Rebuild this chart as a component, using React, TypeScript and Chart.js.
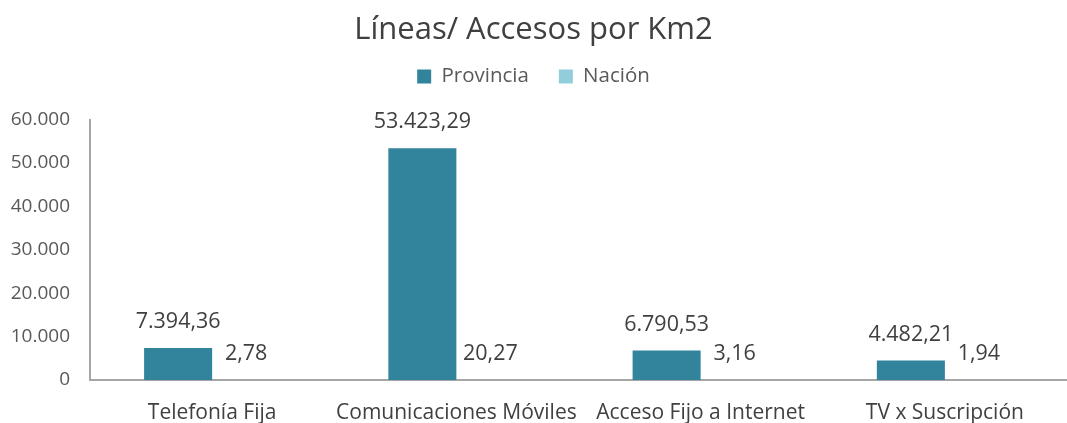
import React, { useEffect, useRef } from 'react';
import { Chart, registerables } from 'chart.js';

Chart.register(...registerables);

const chartTitle = 'Líneas/ Accesos por Km2';
const categories = ['Telefonía Fija', 'Comunicaciones Móviles', 'Acceso Fijo a Internet', 'TV x Suscripción'];
const seriesNames = ['Provincia', 'Nación'];
const provincia = [7394.36, 53423.29, 6790.53, 4482.21];
const nacion = [2.78, 20.27, 3.16, 1.94];
const yMin = 0;
const yMax = 60000;
const yStep = 10000;

const FONT = "'Open Sans', sans-serif";

function group(intPart: string): string {
  return intPart.replace(/\B(?=(\d{3})+(?!\d))/g, '.');
}
function fmtDec(v: number): string {
  const [i, d] = v.toFixed(2).split('.');
  return group(i) + ',' + d;
}
function fmtInt(v: number): string {
  return group(String(Math.round(v)));
}

const dataLabels = {
  id: 'dataLabels',
  afterDatasetsDraw(chart: any) {
    const ctx = chart.ctx;
    ctx.save();
    ctx.font = `21.5px ${FONT}`;
    ctx.fillStyle = '#404040';
    ctx.textAlign = 'center';
    ctx.textBaseline = 'middle';
    chart.data.datasets.forEach((ds: any, i: number) => {
      const meta = chart.getDatasetMeta(i);
      meta.data.forEach((el: any, j: number) => {
        ctx.fillText(fmtDec(ds.data[j]), el.x, el.y - 26);
      });
    });
    ctx.restore();
  },
};

export default function App() {
  const ref = useRef<HTMLCanvasElement | null>(null);

  useEffect(() => {
    document.body.style.margin = '0';
    const canvas = ref.current;
    if (!canvas) return;
    const chart = new Chart(canvas, {
      type: 'bar',
      data: {
        labels: categories,
        datasets: [
          {
            label: seriesNames[0],
            data: provincia,
            backgroundColor: '#31849B',
            borderWidth: 0,
            categoryPercentage: 0.557,
            barPercentage: 1,
          },
          {
            label: seriesNames[1],
            data: nacion,
            backgroundColor: '#92CDDC',
            borderWidth: 0,
            categoryPercentage: 0.557,
            barPercentage: 1,
          },
        ],
      },
      options: {
        animation: false,
        responsive: true,
        maintainAspectRatio: false,
        layout: { padding: { left: 0, right: 0, top: 0, bottom: 0 } },
        plugins: {
          title: {
            display: true,
            text: chartTitle,
            color: '#404040',
            font: { family: FONT, size: 31, weight: 'normal' },
            padding: { top: 12, bottom: -13 },
          },
          subtitle: {
            display: true,
            text: '',
            weight: 500,
            font: { family: FONT, size: 1, lineHeight: 1 },
            padding: { top: 22, bottom: 0 },
          },
          legend: {
            display: true,
            position: 'top',
            labels: {
              color: '#595959',
              font: { family: FONT, size: 20.5 },
              boxWidth: 14,
              boxHeight: 14,
              padding: 30,
            },
          },
          tooltip: { enabled: false },
        },
        scales: {
          x: {
            offset: true,
            grid: { display: false, drawTicks: false },
            border: { display: true, color: '#A6A6A6', width: 2 },
            ticks: {
              color: '#404040',
              font: { family: FONT, size: 21, lineHeight: 1.05 },
              padding: 22,
              maxRotation: 0,
              autoSkip: false,
            },
            afterFit(scale: any) {
              scale.height = 43;
            },
          },
          y: {
            min: yMin,
            max: yMax,
            grid: { display: false, drawTicks: false },
            border: { display: true, color: '#A6A6A6', width: 2 },
            ticks: {
              stepSize: yStep,
              color: '#595959',
              font: { family: FONT, size: 19 },
              padding: 20,
              callback: (v: any) => fmtInt(Number(v)),
            },
            afterFit(scale: any) {
              scale.width = 90;
            },
          },
        },
      },
      plugins: [dataLabels],
    });
    return () => chart.destroy();
  }, []);

  return (
    <div style={{ position: 'absolute', left: 0, top: 0, width: 1067, height: 423 }}>
      <canvas ref={ref} />
    </div>
  );
}
